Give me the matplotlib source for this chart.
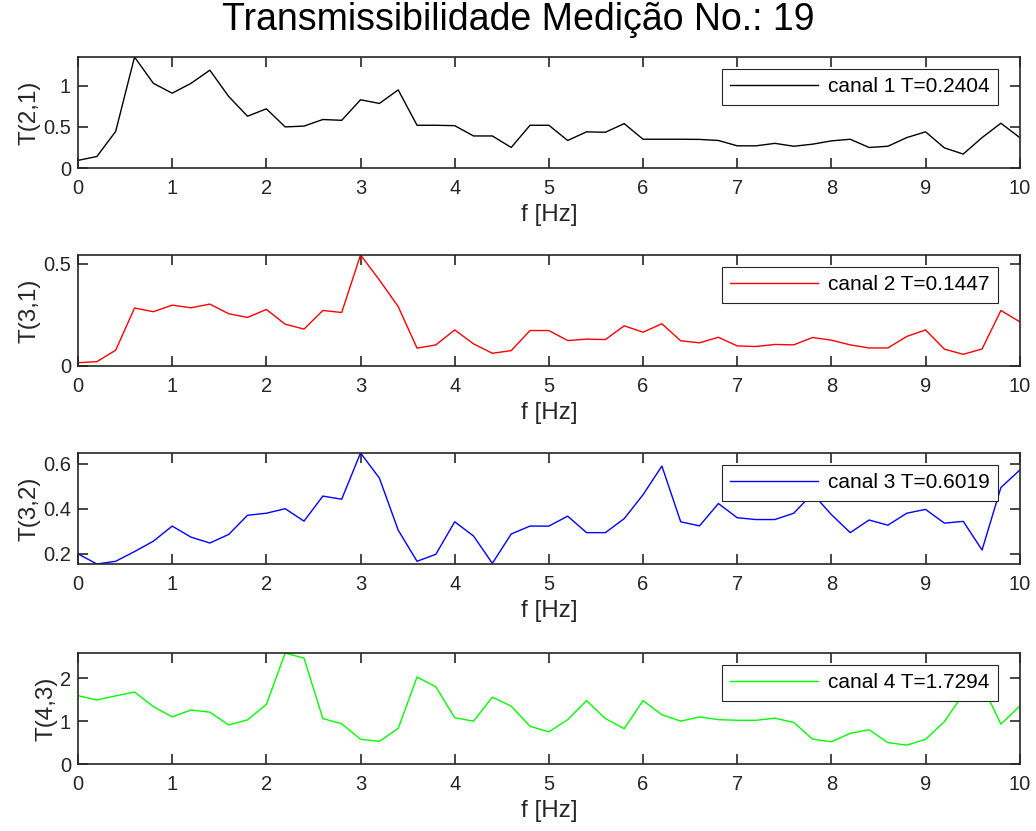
import numpy as np
import matplotlib
matplotlib.use("Agg")
import matplotlib.pyplot as plt

plt.rcParams['font.family'] = ['Liberation Sans', 'DejaVu Sans']

freq = np.arange(0, 51) * 0.2

t21 = [0.093, 0.14, 0.445, 1.35, 1.03, 0.91, 1.03, 1.19, 0.87, 0.63,
       0.72, 0.50, 0.51, 0.59, 0.58, 0.83, 0.785, 0.95, 0.52, 0.52,
       0.515, 0.39, 0.39, 0.25, 0.52, 0.52, 0.335, 0.44, 0.435, 0.54,
       0.35, 0.35, 0.35, 0.348, 0.335, 0.27, 0.27, 0.30, 0.265, 0.29,
       0.33, 0.35, 0.25, 0.265, 0.37, 0.44, 0.245, 0.17, 0.37, 0.545,
       0.37]
t31 = [0.016, 0.021, 0.077, 0.283, 0.265, 0.297, 0.284, 0.302, 0.255, 0.237,
       0.276, 0.204, 0.18, 0.271, 0.261, 0.542, 0.42, 0.29, 0.087, 0.103,
       0.176, 0.108, 0.062, 0.075, 0.173, 0.173, 0.124, 0.131, 0.129, 0.196,
       0.165, 0.206, 0.123, 0.113, 0.14, 0.098, 0.095, 0.105, 0.103, 0.139,
       0.126, 0.103, 0.088, 0.088, 0.144, 0.176, 0.082, 0.057, 0.083, 0.271,
       0.216]
t32 = [0.2, 0.155, 0.167, 0.21, 0.256, 0.323, 0.274, 0.248, 0.286, 0.371,
       0.38, 0.4, 0.345, 0.456, 0.442, 0.647, 0.536, 0.305, 0.167, 0.198,
       0.342, 0.279, 0.158, 0.288, 0.323, 0.323, 0.367, 0.294, 0.294, 0.356,
       0.462, 0.589, 0.342, 0.324, 0.423, 0.36, 0.352, 0.352, 0.38, 0.467,
       0.374, 0.294, 0.35, 0.327, 0.38, 0.397, 0.336, 0.344, 0.217, 0.494,
       0.571]
t43 = [1.595, 1.494, 1.59, 1.68, 1.34, 1.10, 1.26, 1.21, 0.91, 1.03,
       1.39, 2.59, 2.47, 1.06, 0.94, 0.576, 0.53, 0.83, 2.03, 1.80,
       1.08, 1.00, 1.56, 1.35, 0.88, 0.75, 1.035, 1.48, 1.06, 0.825,
       1.48, 1.15, 1.00, 1.10, 1.035, 1.02, 1.02, 1.07, 0.97, 0.58,
       0.52, 0.716, 0.80, 0.50, 0.44, 0.576, 0.99, 1.63, 1.85, 0.93,
       1.35]

series = [t21, t31, t32, t43]
ylabels = ['T(2,1)', 'T(3,1)', 'T(3,2)', 'T(4,3)']
legends = ['canal 1 T=0.2404', 'canal 2 T=0.1447', 'canal 3 T=0.6019', 'canal 4 T=1.7294']
colors = ['black', 'red', 'blue', '#00ff00']
ylims = [(0, 1.35), (0, 0.542), (0.155, 0.647), (0, 2.59)]
yticks = [[0, 0.5, 1], [0, 0.5], [0.2, 0.4, 0.6], [0, 1, 2]]
yticklabels = [['0', '0.5', '1'], ['0', '0.5'], ['0.2', '0.4', '0.6'], ['0', '1', '2']]

fig = plt.figure(figsize=(10.36, 8.31), dpi=100)
bottoms = [0.7978, 0.5596, 0.3213, 0.0806]
axc = '#262626'

for i in range(4):
    ax = fig.add_axes([0.0753, bottoms[i], 0.909, 0.1336])
    ax.plot(freq, series[i], color=colors[i], lw=1.0, label=legends[i])
    ax.set_xlim(0, 10)
    ax.set_ylim(*ylims[i])
    ax.set_xticks(range(11))
    ax.set_yticks(yticks[i])
    ax.set_yticklabels(yticklabels[i])
    ax.tick_params(direction='in', top=True, right=True, labelsize=14.5,
                   length=7, width=1.2, colors=axc, labelcolor=axc, pad=5)
    ax.tick_params(axis='x', pad=8)
    for s in ax.spines.values():
        s.set_color(axc)
        s.set_linewidth(1.2)
    ax.set_xlabel('f [Hz]', fontsize=17.5, color=axc, labelpad=4)
    ax.set_ylabel(ylabels[i], fontsize=17.5, color=axc, labelpad=2)
    leg = ax.legend(loc='upper right', bbox_to_anchor=(0.977, 0.892),
                    borderaxespad=0, fontsize=15, handlelength=4.2,
                    fancybox=False, framealpha=1, edgecolor=axc,
                    borderpad=0.4, handletextpad=0.5)
    leg.get_frame().set_linewidth(0.8)

fig.suptitle('Transmissibilidade Medição No.: 19', fontsize=27, y=0.998, va='top')

fig.savefig('out.png', dpi=100)
